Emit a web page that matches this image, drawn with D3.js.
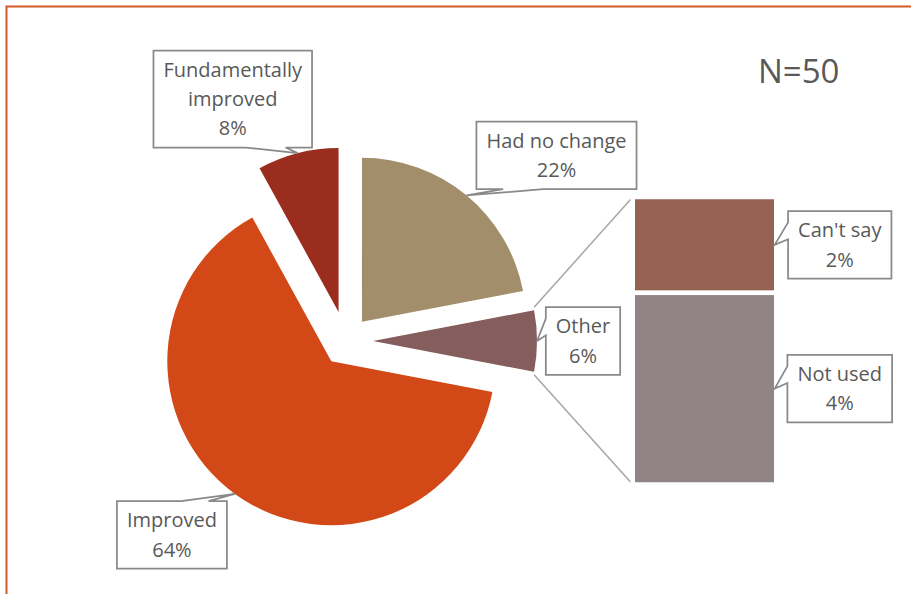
<!DOCTYPE html>
<html>
<head>
<meta charset="utf-8">
<script src="https://cdn.jsdelivr.net/npm/d3@7"></script>
<style>
  body { margin: 0; background: #fff; }
  svg { display: block; font-family: 'Open Sans', Lato, sans-serif; }
  .callout text { fill: #595959; font-size: 20px; text-anchor: middle; }
</style>
</head>
<body>
<svg id="chart" width="911" height="594"></svg>
<script>
// Pie slices, clockwise from 12 o'clock
var pieLabels = ['Had no change', 'Other', 'Improved', 'Fundamentally improved'];
var pieValues = [22, 6, 64, 8];

// Breakdown of the "Other" slice, top to bottom
var barLabels = ["Can't say", 'Not used'];
var barValues = [2, 4];

var sampleText = 'N=50';

var colors = {
    'Had no change': '#A28E6A',
    'Other': '#855D5D',
    'Improved': '#D34817',
    'Fundamentally improved': '#9B2D1F',
    "Can't say": '#956251',
    'Not used': '#918485'
};

// how far each slice is pulled out of the pie
var explode = {'Had no change': 25, 'Other': 27, 'Improved': 25, 'Fundamentally improved': 30};

// label box centre relative to the wedge tip
var calloutOffset = {
    'Had no change': [90, -40],
    'Other': [46, 0],
    'Improved': [-63, 41],
    'Fundamentally improved': [-65, -54],
    "Can't say": [65, 0],
    'Not used': [65, 0]
};

var svg = d3.select('#chart');
var center = [346, 341];
var radius = 164;
var lineH = 29.3;

// outer frame (runs off the right/bottom edge like the original)
svg.append('rect')
    .attr('x', 6.5).attr('y', 6.5)
    .attr('width', 1000).attr('height', 1000)
    .attr('fill', 'none')
    .attr('stroke', '#D4582A')
    .attr('stroke-width', 2);

var pie = d3.pie().sort(null).value(d => d.value);
var arcs = pie(pieLabels.map((l, i) => ({label: l, value: pieValues[i]})));
var arc = d3.arc().innerRadius(0).outerRadius(radius);

function polar(a, r) {
    return [Math.sin(a) * r, -Math.cos(a) * r];
}
function apexOf(d) {
    var mid = (d.startAngle + d.endAngle) / 2;
    var o = polar(mid, explode[d.data.label]);
    return [center[0] + o[0], center[1] + o[1]];
}

// bar for the "Other" breakdown
var barX = 632.75, barW = 143.5;
var yScale = d3.scaleLinear()
    .domain([0, d3.sum(barValues)])
    .range([197, 484.5]);

var stacked = [];
var acc = 0;
barLabels.forEach(function(l, i) {
    stacked.push({label: l, value: barValues[i], y0: acc, y1: acc + barValues[i]});
    acc += barValues[i];
});

// connector lines from the Other slice to the bar
var other = arcs.find(d => d.data.label === 'Other');
var oa = apexOf(other);
var p1 = polar(other.startAngle, radius), p2 = polar(other.endAngle, radius);
var conn = [
    [[oa[0] + p1[0], oa[1] + p1[1] - 3], [barX - 2, yScale(0) + 2.25]],
    [[oa[0] + p2[0], oa[1] + p2[1] + 3], [barX - 2, yScale(acc) - 2.25]]
];
svg.selectAll('.connector')
    .data(conn)
    .enter().append('path')
    .attr('class', 'connector')
    .attr('d', d => d3.line()(d))
    .attr('stroke', '#A6A6A6')
    .attr('stroke-width', 1.5)
    .attr('fill', 'none');

svg.selectAll('.slice')
    .data(arcs)
    .enter().append('path')
    .attr('class', 'slice')
    .attr('transform', d => 'translate(' + apexOf(d) + ')')
    .attr('d', arc)
    .attr('fill', d => colors[d.data.label]);

svg.selectAll('.bar')
    .data(stacked)
    .enter().append('rect')
    .attr('class', 'bar')
    .attr('x', barX)
    .attr('width', barW)
    .attr('y', d => yScale(d.y0))
    .attr('height', d => yScale(d.y1) - yScale(d.y0))
    .attr('fill', d => colors[d.label])
    .attr('stroke', '#fff')
    .attr('stroke-width', 4.5);

// Excel style wedge rectangle callout
function wedgePath(x0, y0, w, h, tip) {
    var x1 = x0 + w, y1 = y0 + h;
    var dx = tip[0] - (x0 + w / 2), dy = tip[1] - (y0 + h / 2);
    var dz = Math.abs(dy) - Math.abs(dx * h / w);
    var fx = dx > 0 ? [7, 10] : [2, 5];
    var fy = dy > 0 ? [7, 10] : [2, 5];
    var xa = x0 + w * fx[0] / 12, xb = x0 + w * fx[1] / 12;
    var ya = y0 + h * fy[0] / 12, yb = y0 + h * fy[1] / 12;
    var t = tip[0] + ',' + tip[1];
    var p = 'M' + x0 + ',' + y0;
    if (dz > 0 && dy < 0) p += 'L' + xa + ',' + y0 + 'L' + t + 'L' + xb + ',' + y0;
    p += 'L' + x1 + ',' + y0;
    if (dz <= 0 && dx > 0) p += 'L' + x1 + ',' + ya + 'L' + t + 'L' + x1 + ',' + yb;
    p += 'L' + x1 + ',' + y1;
    if (dz > 0 && dy >= 0) p += 'L' + xb + ',' + y1 + 'L' + t + 'L' + xa + ',' + y1;
    p += 'L' + x0 + ',' + y1;
    if (dz <= 0 && dx <= 0) p += 'L' + x0 + ',' + yb + 'L' + t + 'L' + x0 + ',' + ya;
    return p + 'Z';
}

function wrap(label) {
    return label.length > 14 ? label.split(' ') : [label];
}

function callout(label, value, tip) {
    var lines = wrap(label).concat([value + '%']);
    var g = svg.append('g').attr('class', 'callout');
    var box = g.append('path')
        .attr('fill', '#fff')
        .attr('stroke', '#898989')
        .attr('stroke-width', 1.75);
    var off = calloutOffset[label];
    var cx = tip[0] + off[0], cy = tip[1] + off[1];
    var maxW = 0;
    lines.forEach(function(s, i) {
        var t = g.append('text')
            .attr('x', cx)
            .attr('y', cy + (i - (lines.length - 1) / 2) * lineH + 7)
            .text(s);
        maxW = Math.max(maxW, t.node().getComputedTextLength());
    });
    var w = maxW + 20, h = lines.length * lineH + 9;
    box.attr('d', wedgePath(cx - w / 2, cy - h / 2, w, h, tip));
}

arcs.forEach(function(d) {
    var a = apexOf(d);
    var o = polar((d.startAngle + d.endAngle) / 2, radius);
    callout(d.data.label, d.value, [a[0] + o[0], a[1] + o[1]]);
});

stacked.forEach(function(d) {
    callout(d.label, d.value, [barX + barW - 1.5, (yScale(d.y0) + yScale(d.y1)) / 2]);
});

svg.append('text')
    .attr('x', 758)
    .attr('y', 82.7)
    .attr('fill', '#595959')
    .style('font-size', '33px')
    .text(sampleText);
</script>
</body>
</html>
